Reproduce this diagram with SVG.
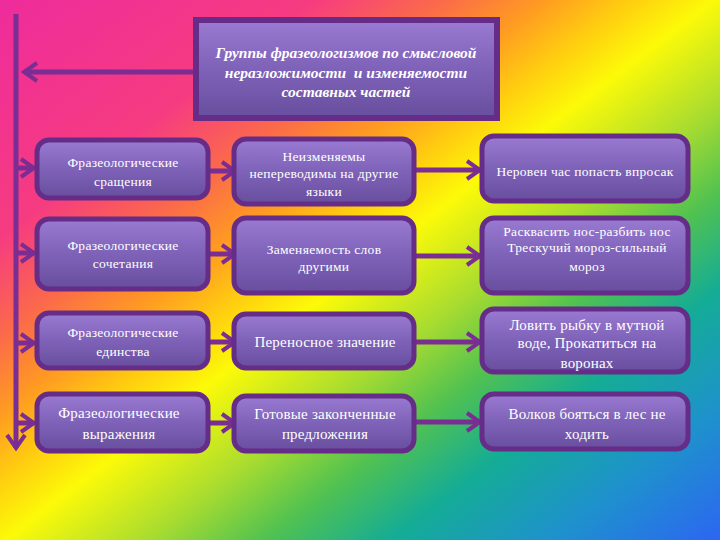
<svg xmlns="http://www.w3.org/2000/svg" width="720" height="540" viewBox="0 0 720 540">
<defs>
<linearGradient id="bg" gradientUnits="userSpaceOnUse" x1="0" y1="0" x2="524" y2="688">
<stop offset="0" stop-color="#ee2c9c"/>
<stop offset="0.22" stop-color="#f63c80"/>
<stop offset="0.31" stop-color="#fb6a4a"/>
<stop offset="0.38" stop-color="#ff9a22"/>
<stop offset="0.44" stop-color="#ffcc10"/>
<stop offset="0.5" stop-color="#fcfa08"/>
<stop offset="0.6" stop-color="#a8dc30"/>
<stop offset="0.68" stop-color="#52c250"/>
<stop offset="0.77" stop-color="#14ac96"/>
<stop offset="0.88" stop-color="#1e92cc"/>
<stop offset="1" stop-color="#2c66f2"/>
</linearGradient>
<linearGradient id="boxfill" x1="0" y1="0" x2="0" y2="1">
<stop offset="0" stop-color="#9a7ad2"/>
<stop offset="0.5" stop-color="#7e62b8"/>
<stop offset="1" stop-color="#684e9e"/>
</linearGradient>
<marker id="chev" markerUnits="userSpaceOnUse" viewBox="0 0 18 22" refX="15" refY="11" markerWidth="18" markerHeight="22" orient="auto">
<path d="M2,2 L15,11 L2,20" fill="none" stroke="#7a2d92" stroke-width="4"/>
</marker>
</defs>
<style>
.box{fill:url(#boxfill);stroke:#652c88;stroke-width:5}
.shadow{fill:#4a2060;opacity:0.35}
.t{font-family:"Liberation Serif","DejaVu Serif",serif;fill:#ffffff;text-anchor:middle;font-size:13.5px;letter-spacing:0.3px}
.tl{font-size:15px;letter-spacing:0.2px}
.title{font-family:"Liberation Serif","DejaVu Serif",serif;fill:#ffffff;text-anchor:middle;font-size:15.5px;font-weight:bold;font-style:italic}
.c{fill:none;stroke:#7a2d92;stroke-width:5;marker-end:url(#chev)}
</style>
<rect x="0" y="0" width="720" height="540" fill="url(#bg)"/>

<g id="connectors">
<line class="c" x1="16" y1="14" x2="16" y2="448"/>
<line class="c" x1="196" y1="72" x2="24" y2="72"/>
<line class="c" x1="16" y1="168" x2="34" y2="168"/>
<line class="c" x1="16" y1="253" x2="34" y2="253"/>
<line class="c" x1="16" y1="343" x2="34" y2="343"/>
<line class="c" x1="16" y1="423" x2="34" y2="423"/>
<line class="c" x1="208" y1="171" x2="235" y2="171"/>
<line class="c" x1="208" y1="254" x2="235" y2="254"/>
<line class="c" x1="208" y1="342" x2="235" y2="342"/>
<line class="c" x1="208" y1="423" x2="235" y2="423"/>
<line class="c" x1="415" y1="170" x2="480" y2="170"/>
<line class="c" x1="415" y1="256" x2="480" y2="256"/>
<line class="c" x1="415" y1="342" x2="480" y2="342"/>
<line class="c" x1="415" y1="422" x2="480" y2="422"/>
</g>

<g id="title">
<rect x="196" y="20" width="301" height="98" fill="#4a2060" opacity="0.3" transform="translate(2,3)"/>
<rect x="196" y="20" width="301" height="98" fill="url(#boxfill)" stroke="#652c88" stroke-width="6"/>
<text class="title" x="346" y="58">Группы фразеологизмов по смысловой</text>
<text class="title" x="346" y="78" xml:space="preserve">неразложимости  и изменяемости</text>
<text class="title" x="346" y="97">составных частей</text>
</g>

<g id="l1">
<rect class="shadow" x="39" y="142" width="171" height="58" rx="12"/>
<rect class="box" x="37" y="140" width="171" height="58" rx="12"/>
<text class="t" x="123" y="167">Фразеологические</text>
<text class="t" x="123" y="186">сращения</text>
</g>
<g id="l2">
<rect class="shadow" x="39" y="221" width="171" height="70" rx="12"/>
<rect class="box" x="37" y="219" width="171" height="70" rx="12"/>
<text class="t" x="123" y="250">Фразеологические</text>
<text class="t" x="123" y="268">сочетания</text>
</g>
<g id="l3">
<rect class="shadow" x="39" y="315" width="171" height="55" rx="12"/>
<rect class="box" x="37" y="313" width="171" height="55" rx="12"/>
<text class="t" x="123" y="337">Фразеологические</text>
<text class="t" x="123" y="356">единства</text>
</g>
<g id="l4">
<rect class="shadow" x="39" y="396" width="171" height="57" rx="12"/>
<rect class="box" x="37" y="394" width="171" height="57" rx="12"/>
<text class="t tl" x="119" y="418">Фразеологические</text>
<text class="t tl" x="119" y="439">выражения</text>
</g>

<g id="m1">
<rect class="shadow" x="236" y="141" width="180" height="65" rx="12"/>
<rect class="box" x="234" y="139" width="180" height="65" rx="12"/>
<text class="t" x="324" y="161">Неизменяемы</text>
<text class="t" x="324" y="178">непереводимы на другие</text>
<text class="t" x="324" y="196">языки</text>
</g>
<g id="m2">
<rect class="shadow" x="236" y="220" width="180" height="75" rx="12"/>
<rect class="box" x="234" y="218" width="180" height="75" rx="12"/>
<text class="t" x="324" y="254">Заменяемость слов</text>
<text class="t" x="324" y="271">другими</text>
</g>
<g id="m3">
<rect class="shadow" x="236" y="316" width="180" height="54" rx="12"/>
<rect class="box" x="234" y="314" width="180" height="54" rx="12"/>
<text class="t tl" x="325" y="347">Переносное значение</text>
</g>
<g id="m4">
<rect class="shadow" x="236" y="398" width="180" height="55" rx="12"/>
<rect class="box" x="234" y="396" width="180" height="55" rx="12"/>
<text class="t tl" x="325" y="419">Готовые законченные</text>
<text class="t tl" x="325" y="439">предложения</text>
</g>

<g id="r1">
<rect class="shadow" x="484" y="138" width="206" height="65" rx="12"/>
<rect class="box" x="482" y="136" width="206" height="65" rx="12"/>
<text class="t" x="585" y="176">Неровен час попасть впросак</text>
</g>
<g id="r2">
<rect class="shadow" x="484" y="220" width="206" height="75" rx="12"/>
<rect class="box" x="482" y="218" width="206" height="75" rx="12"/>
<text class="t" x="587" y="236">Расквасить нос-разбить нос</text>
<text class="t" x="587" y="252">Трескучий мороз-сильный</text>
<text class="t" x="587" y="271">мороз</text>
</g>
<g id="r3">
<rect class="shadow" x="484" y="311" width="206" height="63" rx="12"/>
<rect class="box" x="482" y="309" width="206" height="63" rx="12"/>
<text class="t tl" x="587" y="330">Ловить рыбку в мутной</text>
<text class="t tl" x="587" y="348">воде, Прокатиться на</text>
<text class="t tl" x="587" y="368">воронах</text>
</g>
<g id="r4">
<rect class="shadow" x="484" y="396" width="206" height="55" rx="12"/>
<rect class="box" x="482" y="394" width="206" height="55" rx="12"/>
<text class="t tl" x="587" y="419">Волков бояться в лес не</text>
<text class="t tl" x="587" y="439">ходить</text>
</g>
</svg>
